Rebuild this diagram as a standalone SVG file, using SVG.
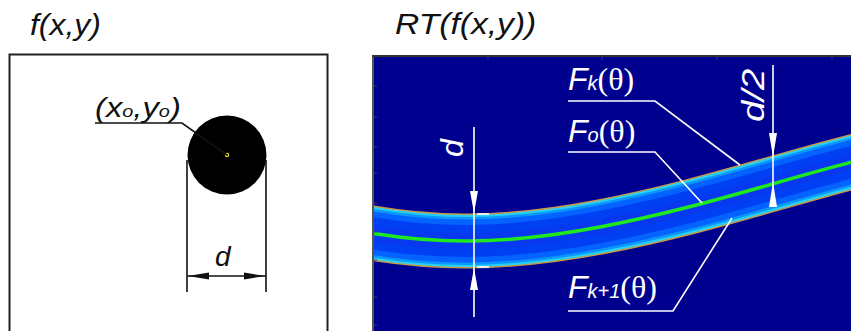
<svg xmlns="http://www.w3.org/2000/svg" width="851" height="331" viewBox="0 0 851 331">
<style>
.title{font-family:"Liberation Sans",Arial,sans-serif;font-style:italic;font-size:29px;fill:#111}
.lbl{font-family:"Liberation Sans",Arial,sans-serif;font-style:italic;font-size:28px;fill:#111}
.wl{font-family:"Liberation Sans",Arial,sans-serif;font-style:italic;font-size:32px;fill:#fff}
.th{font-family:"Liberation Serif","Times New Roman",serif;font-style:normal}
.blk{stroke:#111;stroke-width:1.6;fill:none}
.wht{stroke:#fff;stroke-width:1.6;fill:none}
.ahb{fill:#111}
.ahw{fill:#fff}
.tick{stroke:#3a3a70;stroke-width:1}
</style>
<defs>
<clipPath id="pc"><rect x="374" y="57" width="477" height="274"/></clipPath>
<path id="cl" d="M360,231 C430,244 500,246 600,227 S780,180 860,160"/>
</defs>
<rect width="851" height="331" fill="#fff"/>

<g id="title-left"><text class="title" transform="translate(30,35) scale(1.1,1)">f(x,y)</text></g>
<g id="title-right"><text class="title" transform="translate(395,34) scale(1.16,1)">RT(f(x,y))</text></g>

<g id="left-panel">
<rect x="9.5" y="54.5" width="318" height="290" fill="#fff" stroke="#222" stroke-width="2"/>
<circle cx="227" cy="155" r="39.5" fill="#000"/>
<circle cx="227" cy="155" r="1.6" fill="none" stroke="#e8e020" stroke-width="1.2"/>
</g>

<g id="label-center">
<text class="lbl" transform="translate(95,117) scale(1.17,1)">(x<tspan font-size="17">o</tspan>,y<tspan font-size="17">o</tspan>)</text>
</g>

<g id="connectors-left">
<polyline class="blk" points="95,123 182,123 227,155"/>
</g>

<g id="dim-d-left">
<text class="lbl" x="215" y="266" font-size="30">d</text>
<line class="blk" x1="187" y1="160" x2="187" y2="292"/>
<line class="blk" x1="266" y1="160" x2="266" y2="292"/>
<line class="blk" x1="187" y1="276" x2="266" y2="276"/>
<polygon class="ahb" points="188,276 209,272.5 209,279.5"/>
<polygon class="ahb" points="265,276 244,272.5 244,279.5"/>
</g>

<g id="right-panel">
<rect x="373" y="56" width="478" height="275" fill="#00008f"/>
<g clip-path="url(#pc)" fill="none">
<use href="#cl" stroke="#c89a48" stroke-width="55"/>
<use href="#cl" stroke="#28d0f8" stroke-width="52"/>
<use href="#cl" stroke="#0a98ff" stroke-width="48"/>
<use href="#cl" stroke="#0462ff" stroke-width="43"/>
<use href="#cl" stroke="#0040f4" stroke-width="32"/>
<use href="#cl" stroke="#0838f0" stroke-width="16"/>
<use href="#cl" stroke="#1ee81e" stroke-width="3.5"/>
</g>
<line x1="373" y1="56" x2="373" y2="331" stroke="#555" stroke-width="2"/>
<line x1="372" y1="56" x2="851" y2="56" stroke="#333" stroke-width="2"/>
<g class="tick">
<line x1="374" y1="86" x2="377" y2="86"/><line x1="374" y1="117" x2="377" y2="117"/><line x1="374" y1="147" x2="377" y2="147"/><line x1="374" y1="173" x2="377" y2="173"/><line x1="374" y1="203" x2="377" y2="203"/><line x1="374" y1="232" x2="377" y2="232"/><line x1="374" y1="260" x2="377" y2="260"/><line x1="374" y1="297" x2="377" y2="297"/><line x1="374" y1="325" x2="377" y2="325"/>
<line x1="488" y1="57" x2="488" y2="60"/><line x1="602" y1="57" x2="602" y2="60"/><line x1="717" y1="57" x2="717" y2="60"/><line x1="832" y1="57" x2="832" y2="60"/>
</g>
</g>

<g id="label-Fk">
<text class="wl" x="568" y="90">F<tspan font-size="20">k</tspan><tspan class="th" font-size="32">(θ)</tspan></text>
</g>
<g id="label-Fo">
<text class="wl" x="568" y="142">F<tspan font-size="20">o</tspan><tspan class="th" font-size="32">(θ)</tspan></text>
</g>
<g id="label-Fk1">
<text class="wl" x="568" y="298">F<tspan font-size="20">k+1</tspan><tspan class="th" font-size="32">(θ)</tspan></text>
</g>

<g id="connectors">
<polyline class="wht" points="568,101 655,101 740,165"/>
<polyline class="wht" points="568,152 655,152 702,203"/>
<polyline class="wht" points="568,311 673,311 732,218"/>
</g>

<g id="dim-d-right">
<text class="wl" transform="translate(463,157) rotate(-90)" font-size="30">d</text>
<line class="wht" x1="474" y1="127" x2="474" y2="317"/>
<polygon class="ahw" points="474,213 470,191 478,191"/>
<polygon class="ahw" points="474,268 470,290 478,290"/>
<line class="wht" x1="477" y1="214" x2="489" y2="214" stroke-width="2"/>
<line class="wht" x1="477" y1="267" x2="489" y2="267" stroke-width="2"/>
</g>

<g id="dim-d2">
<text class="wl" transform="translate(764,122) rotate(-90) scale(1.2,1)" font-size="28">d/2</text>
<line class="wht" x1="773" y1="65" x2="773" y2="207"/>
<polygon class="ahw" points="773,157 769,133 777,133"/>
<polygon class="ahw" points="773,182 769,207 777,207"/>
</g>
</svg>
